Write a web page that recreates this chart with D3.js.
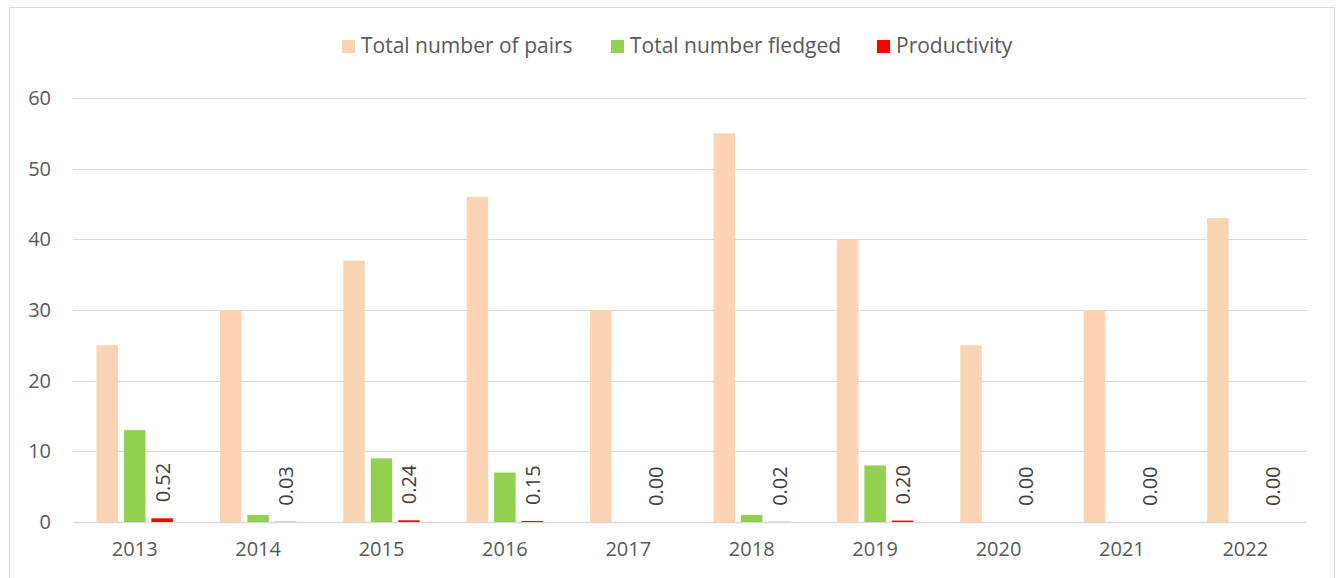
<!DOCTYPE html>
<html><head><meta charset="utf-8">
<script src="https://cdn.jsdelivr.net/npm/d3@7"></script>
<style>body{margin:0;background:#fff;}svg{display:block;font-family:"Open Sans",sans-serif;}</style>
</head><body>
<svg id="chart" width="1336" height="578"></svg>
<script>
const years = ["2013","2014","2015","2016","2017","2018","2019","2020","2021","2022"];
const pairs = [25,30,37,46,30,55,40,25,30,43];
const fledged = [13,1,9,7,0,1,8,0,0,0];
const productivity = [0.52,0.03,0.24,0.15,0.00,0.02,0.20,0.00,0.00,0.00];
const yTicks = [0,10,20,30,40,50,60];
const seriesNames = ["Total number of pairs","Total number fledged","Productivity"];
const colors = ["#FBD4B4","#92D050","#FF0000"];

const svg = d3.select("#chart");
const W = 1336, H = 578;
const m = {left:73, right:29, top:98, bottom:56};

// border
svg.append("rect").attr("x",9.5).attr("y",7.5).attr("width",1325).attr("height",H+10)
  .attr("fill","#fff").attr("stroke","#d9d9d9").attr("stroke-width",1);

const x = d3.scaleBand().domain(years).range([m.left, W-m.right]).paddingInner(0).paddingOuter(0);
const y = d3.scaleLinear().domain([0,60]).range([H-m.bottom, m.top]);
const x1 = d3.scaleBand().domain(d3.range(3)).range([23.5, x.bandwidth()-23.5]).paddingInner(0.218).paddingOuter(0);

// gridlines
svg.append("g").selectAll("line").data(yTicks).join("line")
  .attr("x1",m.left).attr("x2",W-m.right)
  .attr("y1",d=>Math.round(y(d))+0.5).attr("y2",d=>Math.round(y(d))+0.5)
  .attr("stroke","#d9d9d9").attr("stroke-width",d=>d===0?1.5:1.2);

// y axis labels
const yAxis = d3.axisLeft(y).tickValues(yTicks).tickSize(0).tickPadding(0).tickFormat(d3.format("d"));
const yg = svg.append("g").attr("transform",`translate(51,0)`).call(yAxis);
yg.select(".domain").remove();
yg.selectAll("text").attr("fill","#595959").style("font-size","20px").style("font-family","'Open Sans',sans-serif");

// x axis labels
const xAxis = d3.axisBottom(x).tickSize(0).tickPadding(0);
const xg = svg.append("g").attr("transform",`translate(0,${H-m.bottom+20})`).call(xAxis);
xg.select(".domain").remove();
xg.selectAll("text").attr("fill","#595959").style("font-size","20px").style("font-family","'Open Sans',sans-serif");

const series = [pairs, fledged, productivity];
series.forEach((vals,si)=>{
  svg.append("g").selectAll("rect").data(vals).join("rect")
    .attr("x",(d,i)=>x(years[i])+x1(si))
    .attr("width",x1.bandwidth())
    .attr("y",d=>y(d))
    .attr("height",d=>y(0)-y(d))
    .attr("fill",colors[si]);
});

// data labels for productivity
svg.append("g").selectAll("text").data(productivity).join("text")
  .attr("transform",(d,i)=>`translate(${x(years[i])+x1(2)+x1.bandwidth()/2},${y(d)-16}) rotate(-90)`)
  .attr("text-anchor","start").attr("dominant-baseline","central")
  .attr("fill","#404040").style("font-size","20px")
  .text(d=>d3.format(".2f")(d));

// legend
const legendX = [342, 611, 877];
const lg = svg.append("g");
seriesNames.forEach((n,i)=>{
  lg.append("rect").attr("x",legendX[i]).attr("y",40).attr("width",13).attr("height",13).attr("fill",colors[i]);
  lg.append("text").attr("x",legendX[i]+19).attr("y",53)
    .attr("fill","#595959").style("font-size","21px").text(n);
});
</script>
</body></html>
